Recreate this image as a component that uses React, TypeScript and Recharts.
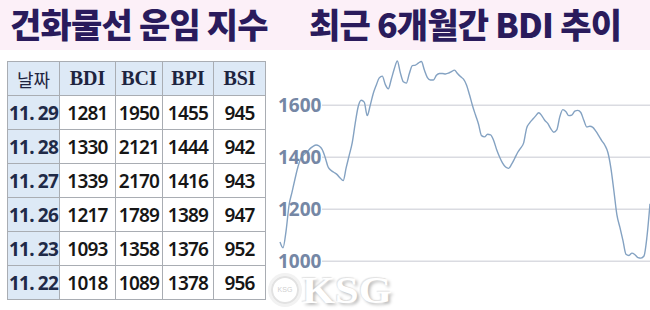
import { Line, LineChart, ReferenceLine, XAxis, YAxis } from "recharts";

const headers = ["날짜", "BDI", "BCI", "BPI", "BSI"];
const dates = ["11. 29", "11. 28", "11. 27", "11. 26", "11. 23", "11. 22"];
const bdi = [1281, 1330, 1339, 1217, 1093, 1018];
const bci = [1950, 2121, 2170, 1789, 1358, 1089];
const bpi = [1455, 1444, 1416, 1389, 1376, 1378];
const bsi = [945, 942, 943, 947, 952, 956];

// BDI over the last ~6 months
const bdiHistory = [
  1074, 1052, 1115, 1215, 1266, 1317, 1364, 1397, 1410, 1420, 1433, 1442,
  1447, 1443, 1430, 1400, 1362, 1349, 1341, 1333, 1320, 1310, 1360, 1407,
  1455, 1530, 1595, 1619, 1612, 1560, 1600, 1645, 1677, 1705, 1712, 1680,
  1663, 1700, 1740, 1770, 1725, 1690, 1685, 1722, 1752, 1754, 1762, 1768,
  1735, 1706, 1697, 1697, 1715, 1722, 1722, 1720, 1723, 1729, 1735, 1722,
  1710, 1700, 1678, 1640, 1598, 1562, 1527, 1483, 1478, 1488, 1486, 1465,
  1430, 1401, 1377, 1362, 1357, 1373, 1395, 1418, 1435, 1455, 1512, 1532,
  1546, 1559, 1571, 1560, 1542, 1530, 1510, 1496, 1505, 1555, 1583, 1576,
  1560, 1562, 1577, 1580, 1572, 1542, 1516, 1519, 1515, 1500, 1482, 1463,
  1446, 1418, 1358, 1270, 1178, 1130, 1080, 1027, 1022, 1031, 1025, 1014,
  1012, 1020, 1095, 1221,
];
const yTicks = [1000, 1200, 1400, 1600];

const chartData = bdiHistory.map((v, i) => ({ day: i, bdi: v }));
const rows = dates.map((d, i) => [d, bdi[i], bci[i], bpi[i], bsi[i]]);

const colWidths = [52, 56, 47, 51, 52];
const blue = "#dde9f6";
const border = "1px solid #a9adb3";

function YTick({ x, y, payload }: any) {
  return (
    <text
      x={x - 2}
      y={y}
      dy={7}
      textAnchor="start"
      fill="#7587a5"
      fontSize={19}
      fontWeight={700}
      fontFamily="'Noto Sans', sans-serif"
    >
      {payload.value}
    </text>
  );
}

// grid lines start to the right of the tick labels
function GridRow(p: any) {
  return (
    <line
      x1={p.x1 + 42}
      x2={p.x2}
      y1={p.y1}
      y2={p.y2}
      stroke="#dadbe1"
      strokeWidth={1.6}
    />
  );
}

function Table() {
  return (
    <table
      style={{
        position: "absolute",
        left: 7,
        top: 61,
        borderCollapse: "collapse",
        tableLayout: "fixed",
      }}
    >
      <tbody>
        <tr>
          {headers.map((h, i) => (
            <td
              key={h}
              style={{
                width: colWidths[i] - 1,
                height: 33,
                padding: 0,
                border,
                background: blue,
                textAlign: "center",
                color: "#1d2440",
                fontFamily:
                  i === 0
                    ? "'Noto Sans CJK KR', sans-serif"
                    : "'Liberation Serif', serif",
                fontWeight: i === 0 ? 400 : 700,
                fontSize: i === 0 ? 18 : 20,
              }}
            >
              {h}
            </td>
          ))}
        </tr>
        {rows.map((r) => (
          <tr key={r[0]}>
            {r.map((c, i) => (
              <td
                key={i}
                style={{
                  height: 33,
                  padding: 0,
                  border,
                  background: i === 0 ? blue : "#fff",
                  textAlign: "center",
                  color: i === 0 ? "#1f2a48" : "#161616",
                  fontFamily: "'Noto Sans', sans-serif",
                  fontWeight: i === 0 ? 700 : 600,
                  fontSize: 19,
                  letterSpacing: -0.8,
                  whiteSpace: "nowrap",
                }}
              >
                {c}
              </td>
            ))}
          </tr>
        ))}
      </tbody>
    </table>
  );
}

const titleStyle = {
  position: "absolute" as const,
  top: 1,
  fontFamily: "'Noto Sans CJK KR', sans-serif",
  fontWeight: 900,
  fontSize: 34,
  lineHeight: "46px",
  color: "#2a1b5c",
  whiteSpace: "nowrap" as const,
  letterSpacing: -0.8,
};

export default function App() {
  return (
    <div
      style={{
        position: "absolute",
        left: 0,
        top: 0,
        width: 650,
        height: 310,
        background: "#fff",
        overflow: "hidden",
      }}
    >
      <div
        style={{
          position: "absolute",
          left: 0,
          top: 0,
          width: 650,
          height: 50,
          background: "#fcf0f8",
        }}
      />
      <div style={{ ...titleStyle, left: 10 }}>건화물선 운임 지수</div>
      <div style={{ ...titleStyle, left: 309 }}>최근 6개월간 BDI 추이</div>
      <Table />
      <div style={{ position: "absolute", left: 265, top: 40 }}>
        <LineChart
          width={385}
          height={250}
          data={chartData}
          margin={{ top: 8, right: 0, bottom: 8, left: 15 }}
        >
          <XAxis dataKey="day" hide />
          <YAxis
            domain={[920, 1820]}
            ticks={yTicks}
            mirror
            axisLine={false}
            tickLine={false}
            tickSize={0}
            tickMargin={0}
            tick={<YTick />}
          />
          {yTicks.map((t) => (
            <ReferenceLine key={t} y={t} shape={GridRow} />
          ))}
          <Line
            type="monotone"
            dataKey="bdi"
            stroke="#84a2c2"
            strokeWidth={1.4}
            dot={false}
            isAnimationActive={false}
          />
        </LineChart>
      </div>
      <div
        style={{
          position: "absolute",
          left: 271,
          top: 276,
          width: 24,
          height: 24,
          borderRadius: "50%",
          border: "2px solid #e2e2e2",
          boxShadow: "0 0 0 3px #f2f2f2",
          fontSize: 7,
          color: "#cfcfcf",
          fontFamily: "'Liberation Sans', sans-serif",
          textAlign: "center",
          lineHeight: "24px",
        }}
      >
        KSG
      </div>
      <div
        style={{
          position: "absolute",
          left: 302,
          top: 274,
          fontFamily: "'Liberation Serif', serif",
          fontWeight: 700,
          fontSize: 38,
          lineHeight: "33px",
          color: "#ffffff",
          textShadow: "2px 2px 3px #bdbdbd, -1px -1px 1px #e3e3e3",
          letterSpacing: 0,
          transform: "scaleX(1.12)",
          transformOrigin: "left",
        }}
      >
        KSG
      </div>
    </div>
  );
}
